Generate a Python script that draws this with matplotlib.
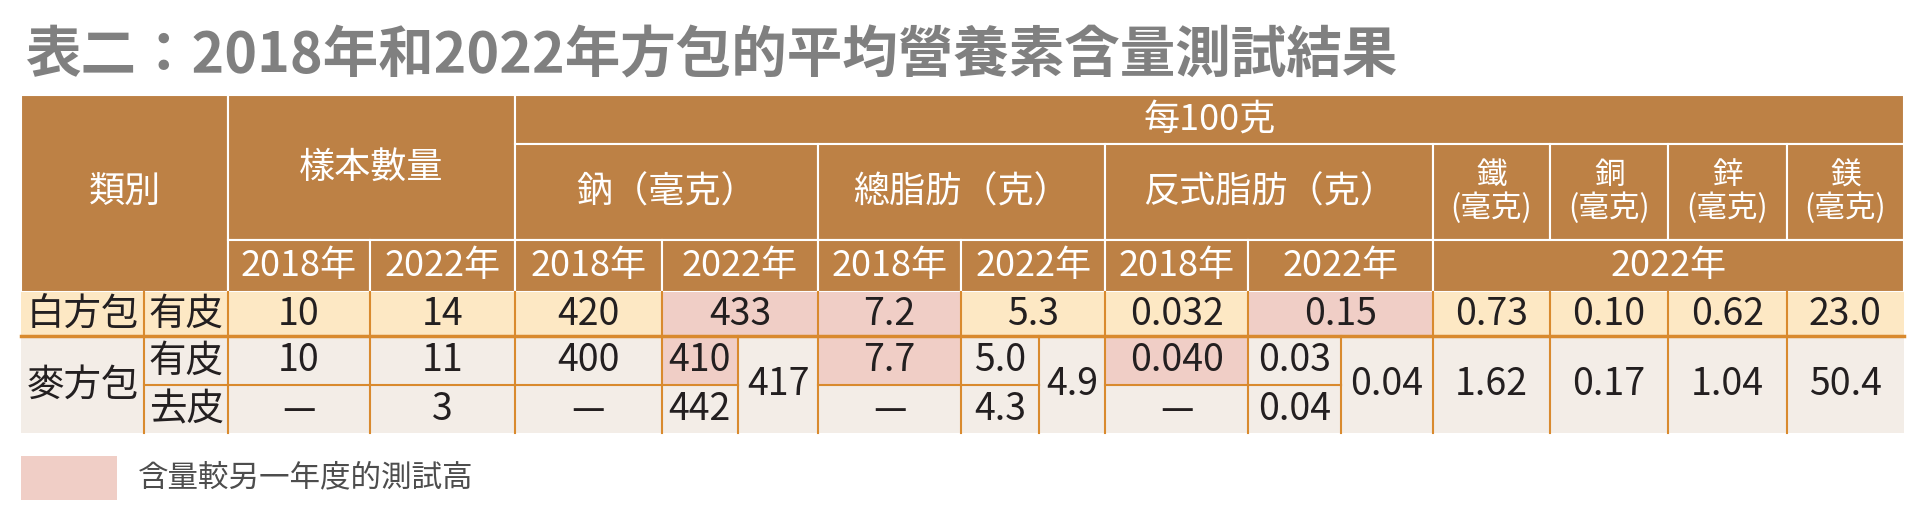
import matplotlib.pyplot as plt
from matplotlib import font_manager as fm
from matplotlib.patches import Rectangle

# pick an installed CJK family (name as matplotlib registered it)
cjk = sorted({f.name for f in fm.fontManager.ttflist if 'CJK' in f.name})
pick = [n for n in cjk if 'TC' in n] or [n for n in cjk if 'JP' in n] or cjk
plt.rcParams['font.family'] = pick[:1] + ['DejaVu Sans']

title = '表二：2018年和2022年方包的平均營養素含量測試結果'
legend_text = '含量較另一年度的測試高'

# header texts
hdr_category = '類別'
hdr_samples = '樣本數量'
hdr_per100 = '每100克'
hdr_groups = ['鈉（毫克）', '總脂肪（克）', '反式脂肪（克）']
hdr_minerals = ['鐵\n(毫克)', '銅\n(毫克)', '鋅\n(毫克)', '鎂\n(毫克)']
years = ['2018年', '2022年']

# data
white_label = ['白方包', '有皮']
white_values = ['10', '14', '420', '433', '7.2', '5.3', '0.032', '0.15',
                '0.73', '0.10', '0.62', '23.0']
white_high = [False, False, False, True, True, False, False, True,
              False, False, False, False]
wheat_label = ['麥方包', '有皮', '去皮']
wheat_skin = ['10', '11', '400', '410', '7.7', '5.0', '0.040', '0.03']
wheat_skin_high = [False, False, False, True, True, False, True, False]
wheat_peeled = ['—', '3', '—', '442', '—', '4.3', '—', '0.04']
wheat_merged = ['417', '4.9', '0.04', '1.62', '0.17', '1.04', '50.4']

# layout (reference pixel grid, 1568 x 432)
X = [17, 117, 185, 300, 418, 537, 599, 664, 780, 843, 897, 1013, 1088,
     1163, 1258, 1354, 1450, 1545]
Y = [77, 117, 195, 237, 273, 313, 352]

BROWN = '#BD8145'
YELLOW = '#FDE8C4'
PINK = '#F0CEC6'
BEIGE = '#F3EDE7'
ORANGE = '#D98A2E'
DARK = '#231F20'

fig = plt.figure(figsize=(19.32, 5.32), dpi=100)
ax = fig.add_axes([0, 0, 1, 1])
ax.set_xlim(0, 1568)
ax.set_ylim(432, 0)
ax.axis('off')


def hcell(c0, c1, r0, r1, text, size=26):
    ax.add_patch(Rectangle((X[c0], Y[r0]), X[c1] - X[c0], Y[r1] - Y[r0],
                           facecolor=BROWN, edgecolor='white', lw=1.5))
    ax.text((X[c0] + X[c1]) / 2, (Y[r0] + Y[r1]) / 2, text, color='white',
            ha='center', va='center', fontsize=size, linespacing=1.05)


def dcell(c0, c1, r0, r1, text, fill, size=27):
    ax.add_patch(Rectangle((X[c0], Y[r0]), X[c1] - X[c0], Y[r1] - Y[r0],
                           facecolor=fill, edgecolor='none'))
    if c1 < len(X) - 1:
        ax.plot([X[c1], X[c1]], [Y[r0], Y[r1]], color=ORANGE, lw=1.5)
    if r1 == 5:
        ax.plot([X[c0], X[c1]], [Y[r1], Y[r1]], color=ORANGE, lw=1.5)
    ax.text((X[c0] + X[c1]) / 2, (Y[r0] + Y[r1]) / 2, text, color=DARK,
            ha='center', va='center', fontsize=size)


ax.text(20, 46, title, color='#808080', fontsize=40, fontweight='bold',
        ha='left', va='center')

# header
hcell(0, 2, 0, 3, hdr_category)
hcell(2, 4, 0, 2, hdr_samples)
hcell(4, 17, 0, 1, hdr_per100)
for (c0, c1), t in zip([(4, 7), (7, 10), (10, 13)], hdr_groups):
    hcell(c0, c1, 1, 2, t)
for i, t in enumerate(hdr_minerals):
    hcell(13 + i, 14 + i, 1, 2, t, size=22)
year_spans = [(2, 3), (3, 4), (4, 5), (5, 7), (7, 8), (8, 10), (10, 11), (11, 13)]
for i, (c0, c1) in enumerate(year_spans):
    hcell(c0, c1, 2, 3, years[i % 2])
hcell(13, 17, 2, 3, years[1])

# white bread row
dcell(0, 1, 3, 4, white_label[0], YELLOW)
dcell(1, 2, 3, 4, white_label[1], YELLOW)
white_spans = year_spans + [(13, 14), (14, 15), (15, 16), (16, 17)]
for (c0, c1), v, h in zip(white_spans, white_values, white_high):
    dcell(c0, c1, 3, 4, v, PINK if h else YELLOW)

# wheat bread rows
dcell(0, 1, 4, 6, wheat_label[0], BEIGE)
dcell(1, 2, 4, 5, wheat_label[1], BEIGE)
dcell(1, 2, 5, 6, wheat_label[2], BEIGE)
split_cols = [(2, 3), (3, 4), (4, 5), (5, 6), (7, 8), (8, 9), (10, 11), (11, 12)]
for (c0, c1), v1, h, v2 in zip(split_cols, wheat_skin, wheat_skin_high, wheat_peeled):
    dcell(c0, c1, 4, 5, v1, PINK if h else BEIGE)
    dcell(c0, c1, 5, 6, v2, BEIGE)
merged_cols = [(6, 7), (9, 10), (12, 13), (13, 14), (14, 15), (15, 16), (16, 17)]
for (c0, c1), v in zip(merged_cols, wheat_merged):
    dcell(c0, c1, 4, 6, v, BEIGE)

ax.plot([X[0], X[-1]], [Y[4], Y[4]], color=ORANGE, lw=2.5)

# legend
ax.add_patch(Rectangle((17, 370), 78, 36, facecolor=PINK, edgecolor='none'))
ax.text(112, 388, legend_text, color='#4D4D4D', fontsize=22,
        ha='left', va='center')

fig.savefig('out.png', dpi=100)
